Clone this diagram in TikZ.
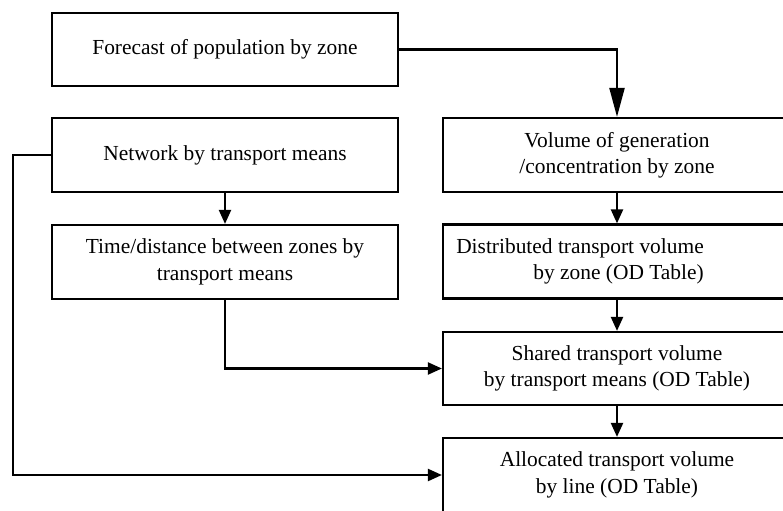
\documentclass[tikz,border=0pt]{standalone}
\usepackage{fontspec}
\setmainfont{Liberation Serif}
\usetikzlibrary{arrows.meta}

\begin{document}
\begin{tikzpicture}[x=1bp, y=-1bp, line width=2.2bp,
box/.style={draw, minimum width=346bp, minimum height=74bp, inner sep=0pt, align=center, font=\fontsize{21.5}{26.5}\selectfont},
flow/.style={-{Triangle[length=14bp, width=12bp]}},
bigflow/.style={-{Triangle[length=29bp, width=15bp]}}]
\useasboundingbox (0,0) rectangle (783,511);
\node [box, minimum height=73bp] (forecast) at (225,49.5) {Forecast of population by zone};
\node [box] (network) at (225,155) {Network by transport means};
\node [box] (time) at (225,262) {Time/distance between zones by\\transport means};
\node [box, minimum width=348bp] (volume) at (617,155) {Volume of generation\\/concentration by zone};
\node [box, minimum width=348bp] (distributed) at (617,261.5) {\begin{tabular}{@{}r@{}}Distributed transport volume\\by zone (OD Table)\end{tabular}\hspace*{74bp}};
\node [box, minimum width=348bp, minimum height=73bp] (shared) at (617,368.5) {Shared transport volume\\by transport means (OD Table)};
\node [box, minimum width=348bp] (allocated) at (617,475) {Allocated transport volume\\by line (OD Table)};
\coordinate (leftturn) at (13,155);
\draw [bigflow] (forecast.east) -| (volume.north);
\draw [flow] (network) -- (time);
\draw [flow] (volume) -- (distributed);
\draw [flow] (distributed) -- (shared);
\draw [flow] (shared) -- (allocated);
\draw [flow] (time.south) |- (shared.west);
\draw [flow] (network.west) -- (leftturn) |- (allocated.west);
\end{tikzpicture}
\end{document}
